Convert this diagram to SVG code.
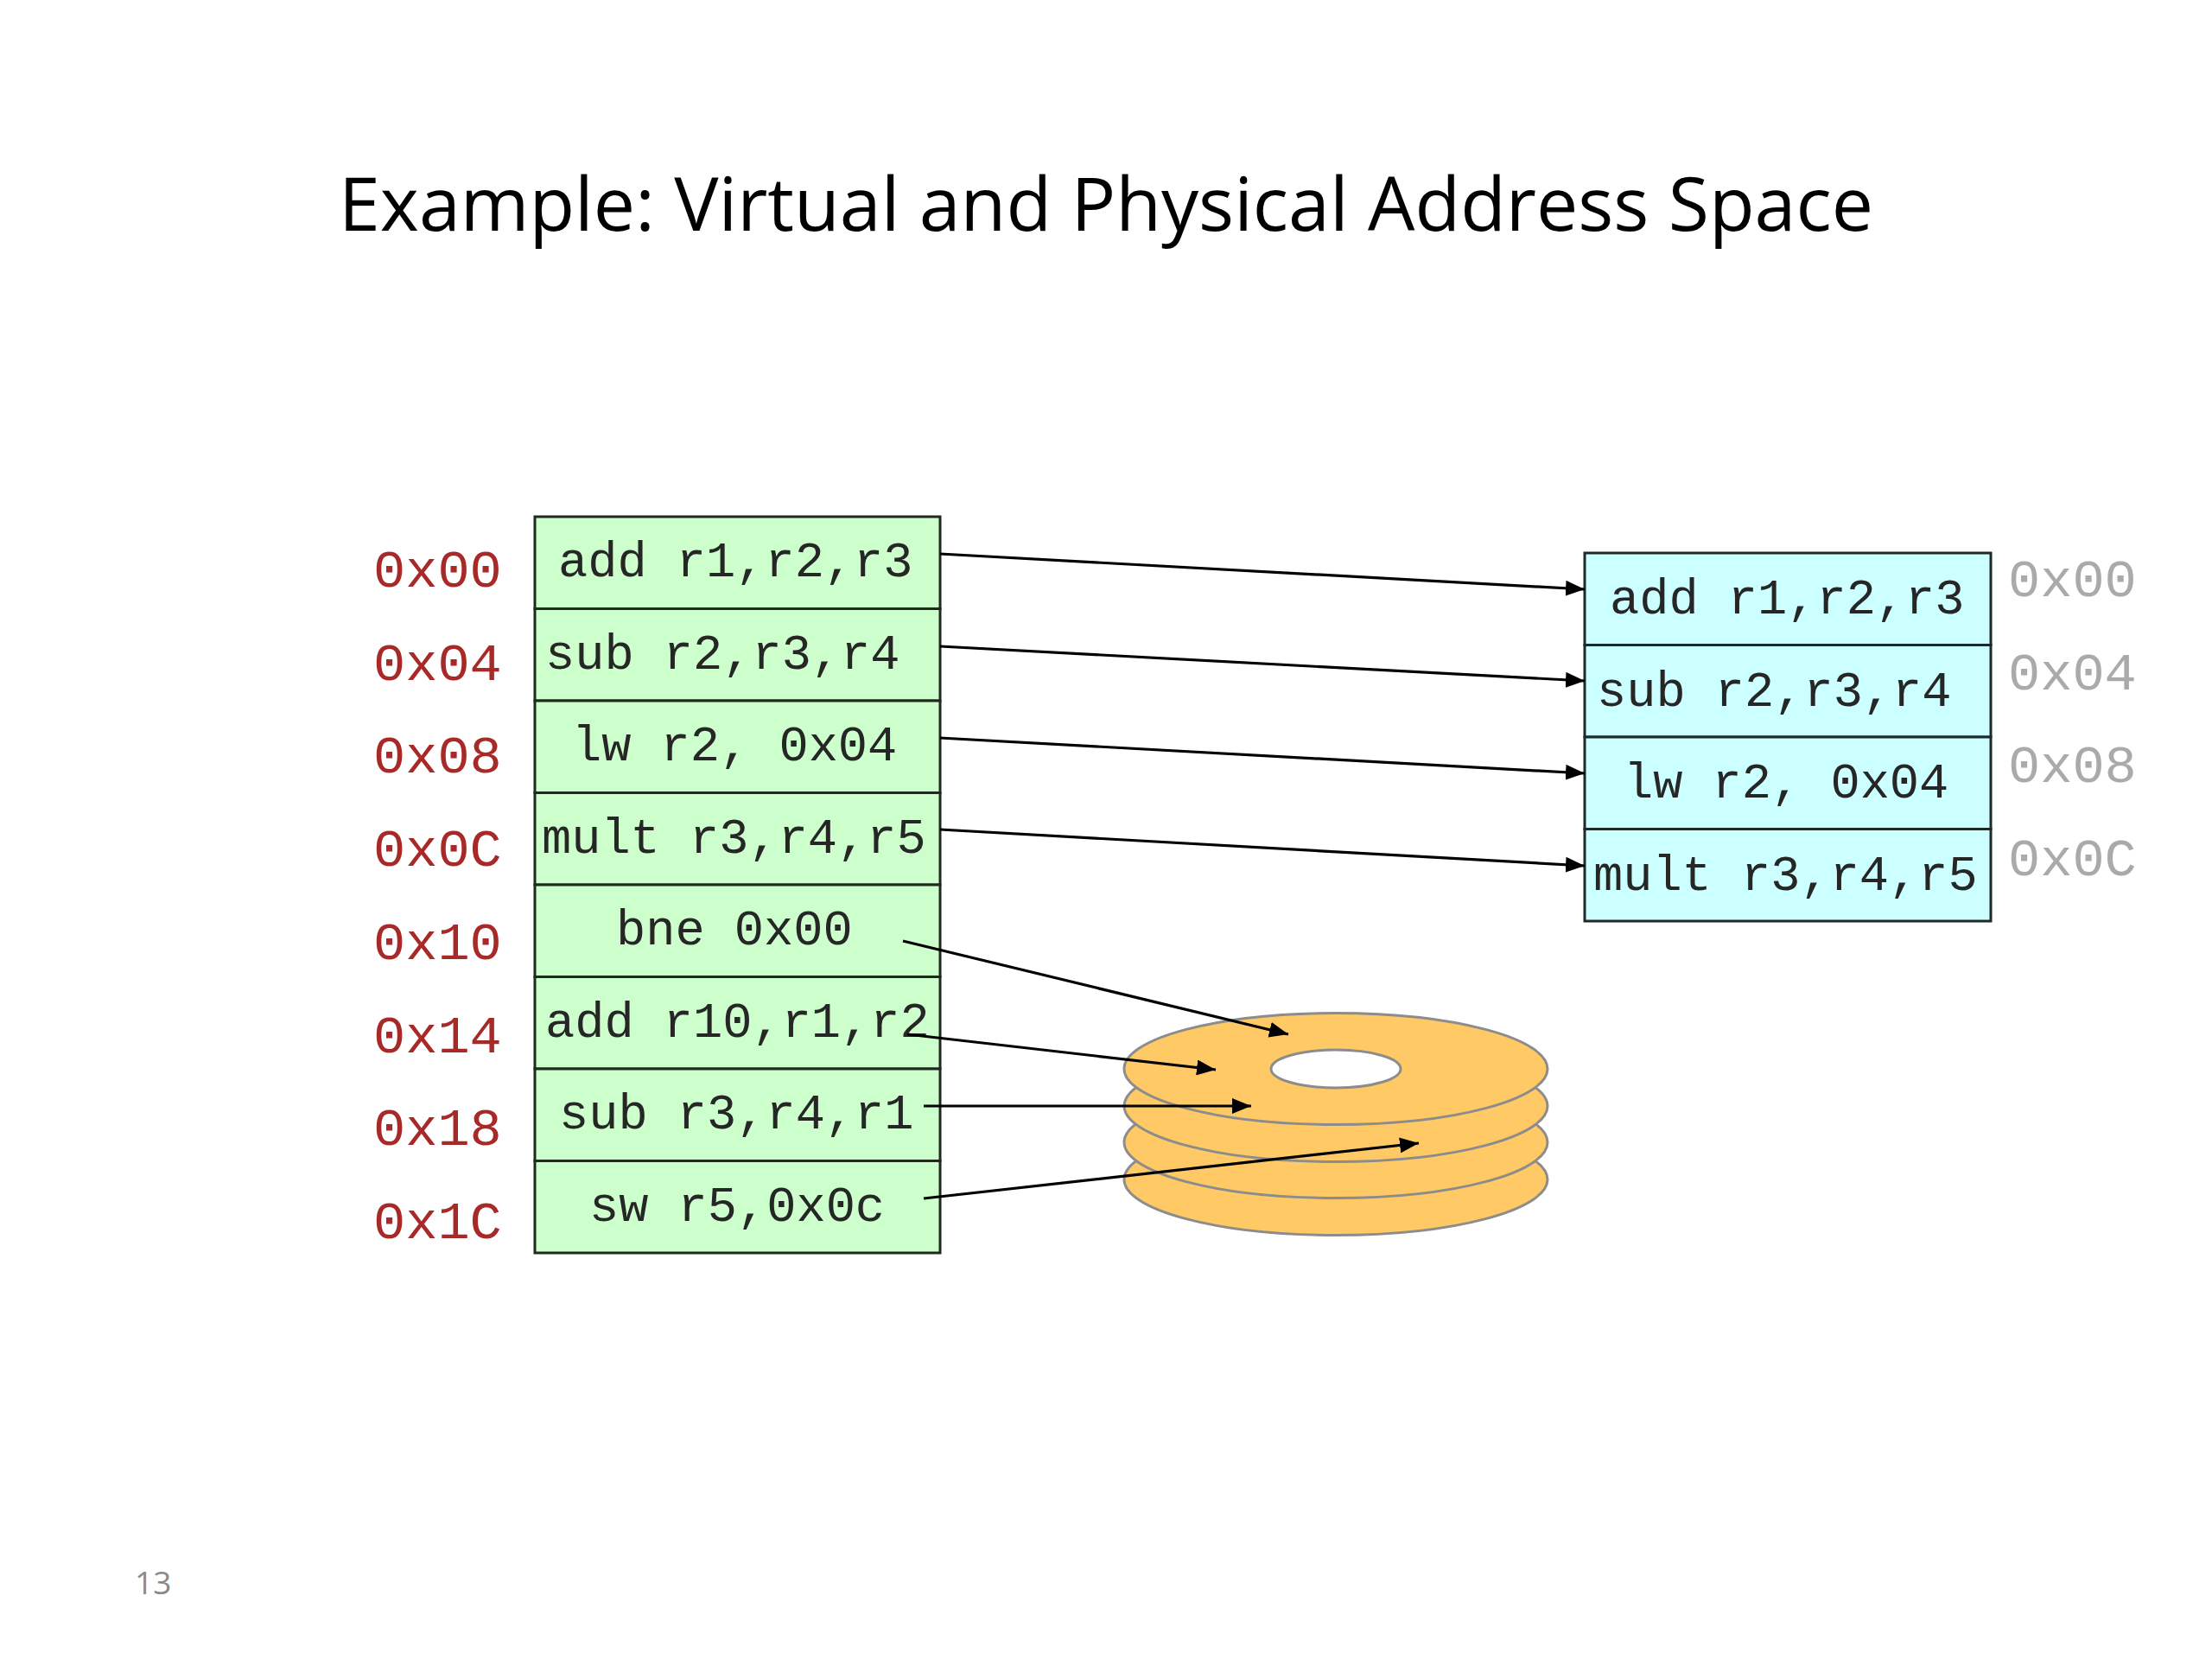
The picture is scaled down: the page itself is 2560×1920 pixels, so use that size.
<svg xmlns="http://www.w3.org/2000/svg" width="2560" height="1920" viewBox="0 0 2560 1920">
<defs>
<style>
.title{font-family:"Open Sans","Liberation Sans",sans-serif;font-size:86px;fill:#000}
.code{font-family:"Liberation Mono","Courier New",monospace;font-size:57px;fill:#262626}
.vaddr{font-family:"Liberation Mono","Courier New",monospace;font-size:62px;fill:#a82a28}
.paddr{font-family:"Liberation Mono","Courier New",monospace;font-size:62px;fill:#aaaaaa}
.cellg{fill:#ccffcc;stroke:#1e2a1e;stroke-width:3}
.cellc{fill:#ccffff;stroke:#1e2a2a;stroke-width:3}
.disk{fill:#ffc966;stroke:#8c8c8c;stroke-width:3}
.hole{fill:#ffffff;stroke:#8c8c8c;stroke-width:3}
.conn{stroke:#000;stroke-width:3.2;fill:none;marker-end:url(#arrow)}
.pnum{font-family:"Open Sans","Liberation Sans",sans-serif;font-size:37px;fill:#8a8a8a}
</style>
<marker id="arrow" markerUnits="userSpaceOnUse" markerWidth="22" markerHeight="18" refX="22" refY="9" orient="auto">
<path d="M0,0 L22,9 L0,18 Z" fill="#000"/>
</marker>
</defs>
<rect width="2560" height="1920" fill="#fff"/>
<text class="title" x="392" y="267" textLength="1776" lengthAdjust="spacingAndGlyphs">Example: Virtual and Physical Address Space</text>

<g id="virtual-labels">
<text class="vaddr" x="432" y="679">0x00</text>
<text class="vaddr" x="432" y="787">0x04</text>
<text class="vaddr" x="432" y="894">0x08</text>
<text class="vaddr" x="432" y="1002">0x0C</text>
<text class="vaddr" x="432" y="1110">0x10</text>
<text class="vaddr" x="432" y="1218">0x14</text>
<text class="vaddr" x="432" y="1325">0x18</text>
<text class="vaddr" x="432" y="1433">0x1C</text>
</g>

<g id="virtual-space">
<g id="v0"><rect class="cellg" x="619" y="598" width="469" height="106.5"/><text class="code" x="646" y="667">add r1,r2,r3</text></g>
<g id="v1"><rect class="cellg" x="619" y="704.5" width="469" height="106.5"/><text class="code" x="631" y="773.5">sub r2,r3,r4</text></g>
<g id="v2"><rect class="cellg" x="619" y="811" width="469" height="106.5"/><text class="code" x="662" y="880">lw r2, 0x04</text></g>
<g id="v3"><rect class="cellg" x="619" y="917.5" width="469" height="106.5"/><text class="code" x="627" y="986.5">mult r3,r4,r5</text></g>
<g id="v4"><rect class="cellg" x="619" y="1024" width="469" height="106.5"/><text class="code" x="713" y="1093">bne 0x00</text></g>
<g id="v5"><rect class="cellg" x="619" y="1130.5" width="469" height="106.5"/><text class="code" x="631" y="1199.5">add r10,r1,r2</text></g>
<g id="v6"><rect class="cellg" x="619" y="1237" width="469" height="106.5"/><text class="code" x="647" y="1306">sub r3,r4,r1</text></g>
<g id="v7"><rect class="cellg" x="619" y="1343.5" width="469" height="106.5"/><text class="code" x="682" y="1412.5">sw r5,0x0c</text></g>
</g>

<g id="physical-space">
<g id="p0"><rect class="cellc" x="1834" y="640" width="470" height="106.5"/><text class="code" x="1863" y="710">add r1,r2,r3</text></g>
<g id="p1"><rect class="cellc" x="1834" y="746.5" width="470" height="106.5"/><text class="code" x="1848" y="816.5">sub r2,r3,r4</text></g>
<g id="p2"><rect class="cellc" x="1834" y="853" width="470" height="106.5"/><text class="code" x="1879" y="923">lw r2, 0x04</text></g>
<g id="p3"><rect class="cellc" x="1834" y="959.5" width="470" height="106.5"/><text class="code" x="1844" y="1029.5">mult r3,r4,r5</text></g>
</g>

<g id="physical-labels">
<text class="paddr" x="2324" y="690">0x00</text>
<text class="paddr" x="2324" y="798">0x04</text>
<text class="paddr" x="2324" y="905">0x08</text>
<text class="paddr" x="2324" y="1013">0x0C</text>
</g>

<g id="disk">
<ellipse class="disk" cx="1546" cy="1365" rx="245" ry="64.5"/>
<ellipse class="disk" cx="1546" cy="1322" rx="245" ry="64.5"/>
<ellipse class="disk" cx="1546" cy="1280" rx="245" ry="64.5"/>
<ellipse class="disk" cx="1546" cy="1237" rx="245" ry="64.5"/>
<ellipse class="hole" cx="1546" cy="1237" rx="75" ry="22"/>
</g>

<g id="connectors">
<line class="conn" x1="1088" y1="641" x2="1834" y2="682"/>
<line class="conn" x1="1088" y1="748" x2="1834" y2="788"/>
<line class="conn" x1="1088" y1="854" x2="1834" y2="895"/>
<line class="conn" x1="1088" y1="960" x2="1834" y2="1002"/>
<line class="conn" x1="1045" y1="1089" x2="1491" y2="1197"/>
<line class="conn" x1="1050" y1="1197" x2="1407" y2="1238"/>
<line class="conn" x1="1069" y1="1280" x2="1448" y2="1280"/>
<line class="conn" x1="1069" y1="1387" x2="1642" y2="1323"/>
</g>

<text class="pnum" x="156" y="1845">13</text>
</svg>
